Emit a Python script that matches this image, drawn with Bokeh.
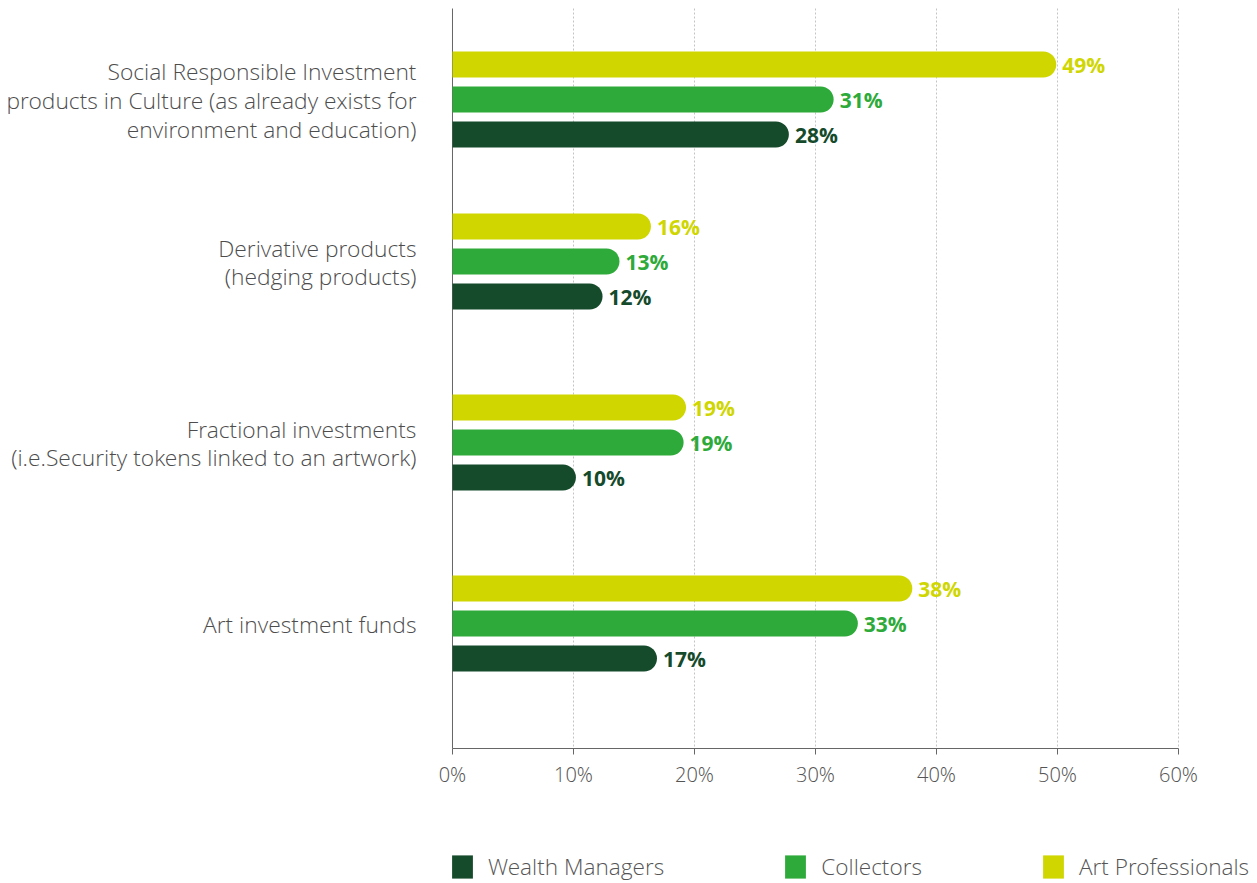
from bokeh.plotting import figure
from bokeh.models import (Range1d, FixedTicker, ColumnDataSource, Legend, LegendItem)
from bokeh.core.properties import value
from bokeh.embed import file_html
from bokeh.resources import INLINE

categories = [
    "Social Responsible Investment\nproducts in Culture (as already exists for\nenvironment and education)",
    "Derivative products\n(hedging products)",
    "Fractional investments\n(i.e.Security tokens linked to an artwork)",
    "Art investment funds",
]
series_names = ["Wealth Managers", "Collectors", "Art Professionals"]
wealth_managers = [27.8, 12.4, 10.2, 16.9]
collectors = [31.5, 13.8, 19.1, 33.5]
art_professionals = [49.9, 16.4, 19.3, 38.0]
wealth_labels = [28, 12, 10, 17]
collectors_labels = [31, 13, 19, 33]
art_labels = [49, 16, 19, 38]
tick_values = [0, 10, 20, 30, 40, 50, 60]
tick_labels = ["0%", "10%", "20%", "30%", "40%", "50%", "60%"]

colors = ["#154a2b", "#2eaa3a", "#cfd600"]
FONT = "Open Sans"
LIGHT = "'Open Sans Light', 'Open Sans'"

# vertical layout (screen-like units, top = 0)
group_y = [99, 261, 442, 623]
BAR_STEP = 35
BAR_H = 26
Y_AXIS = 748
Y_TOP = 8

p = figure(width=1257, height=883, output_backend="svg", toolbar_location=None,
           x_range=Range1d(-37.355, 66.529), y_range=Range1d(883, 0),
           min_border_left=0, min_border_right=0, min_border_top=0, min_border_bottom=0)
p.outline_line_color = None
p.background_fill_color = "white"
p.yaxis.visible = False
p.grid.visible = False

# dotted grid lines limited to the plot area
n_grid = len(tick_values) - 1
p.segment(x0=tick_values[1:], x1=tick_values[1:], y0=[Y_TOP] * n_grid, y1=[Y_AXIS] * n_grid,
          line_color="#c4c4c4", line_dash="2 2", line_width=1)

# x axis at a fixed location inside the frame
xa = p.xaxis[0]
xa.fixed_location = Y_AXIS
xa.ticker = FixedTicker(ticks=tick_values)
xa.major_label_overrides = {v: l for v, l in zip(tick_values, tick_labels)}
xa.axis_line_color = None
xa.major_tick_out = 6
xa.major_tick_in = 0
xa.major_tick_line_color = "#666666"
xa.minor_tick_line_color = None
xa.major_label_text_font = LIGHT
xa.major_label_text_font_size = "20px"
xa.major_label_text_color = "#555555"
xa.major_label_standoff = 6

# axis lines
p.segment(x0=[tick_values[0], tick_values[0]], x1=[tick_values[-1], tick_values[0]],
          y0=[Y_AXIS, Y_TOP], y1=[Y_AXIS, Y_AXIS], line_color="#666666", line_width=1)

renderers = []
for k, (vals, labs, col) in enumerate([(wealth_managers, wealth_labels, colors[0]),
                                       (collectors, collectors_labels, colors[1]),
                                       (art_professionals, art_labels, colors[2])]):
    ys = [g + (1 - k) * BAR_STEP for g in group_y]
    src = ColumnDataSource(dict(y=ys, v=vals, t=[f"{l}%" for l in labs]))
    r = p.hbar(y="y", right="v", left=0, height=BAR_H, source=src, fill_color=col,
               line_color=None, border_radius=(0, 13, 13, 0))
    renderers.append(r)
    p.text(x="v", y="y", text="t", source=src, x_offset=6, text_baseline="middle",
           text_align="left", text_color=col, text_font=value(FONT),
           text_font_style="bold", text_font_size="21px")

cat_src = ColumnDataSource(dict(x=[-2.975] * len(categories), y=[g + 1 for g in group_y], t=categories))
p.text(x="x", y="y", text="t", source=cat_src, text_align="right", text_baseline="middle",
       text_font=value(LIGHT), text_font_size="22.8px", text_color="#4d4d4d",
       text_line_height=0.934)

legend = Legend(items=[LegendItem(label=n, renderers=[r]) for n, r in zip(series_names, renderers)],
                orientation="horizontal", location=(449, 1), spacing=118,
                padding=0, margin=0, glyph_width=26, glyph_height=29, label_standoff=13,
                label_text_font=LIGHT, label_text_font_size="22.6px", label_text_color="#555555",
                border_line_color=None, background_fill_alpha=0)
p.add_layout(legend, "center")

open("out.html", "w").write(file_html(p, INLINE))
